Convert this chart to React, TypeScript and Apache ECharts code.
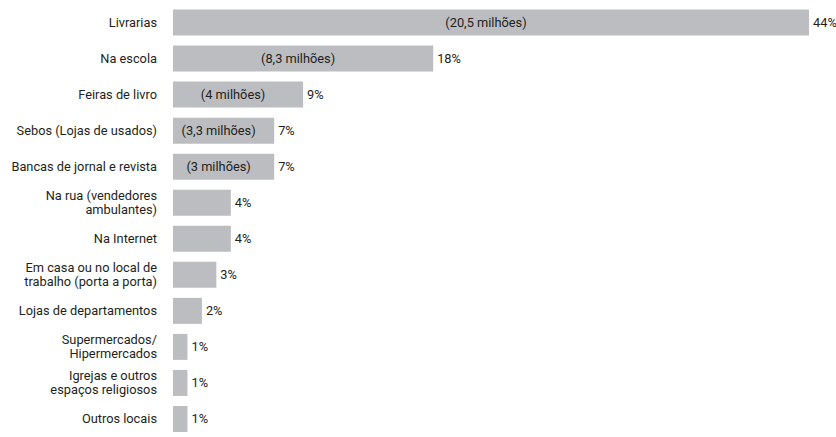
import React, { useEffect, useRef } from "react";
import * as echarts from "echarts";

const categories = [
  "Livrarias",
  "Na escola",
  "Feiras de livro",
  "Sebos (Lojas de usados)",
  "Bancas de jornal e revista",
  "Na rua (vendedores\nambulantes)",
  "Na Internet",
  "Em casa ou no local de\ntrabalho (porta a porta)",
  "Lojas de departamentos",
  "Supermercados/\nHipermercados",
  "Igrejas e outros\nespaços religiosos",
  "Outros locais",
];

const percentValues = [44, 18, 9, 7, 7, 4, 4, 3, 2, 1, 1, 1];

const millionsLabels = ["20,5", "8,3", "4", "3,3", "3", "", "", "", "", "", "", ""];

const FONT = "Roboto, 'Liberation Sans', sans-serif";
const FS = 12.8;
const TEXT = "#231f20";
const BAR = "#bcbdc0";

export default function App() {
  const ref = useRef<HTMLDivElement>(null);

  useEffect(() => {
    if (!ref.current) return;
    const chart = echarts.init(ref.current, undefined, { renderer: "svg" });
    chart.setOption({
      animation: false,
      backgroundColor: "#ffffff",
      grid: { left: 173, top: 4.5, width: 636, height: 439.2, containLabel: false },
      xAxis: { type: "value", min: 0, max: 44, show: false },
      yAxis: {
        type: "category",
        inverse: true,
        data: categories,
        axisLine: { show: false },
        axisTick: { show: false },
        splitLine: { show: false },
        axisLabel: {
          margin: 16,
          fontSize: FS,
          lineHeight: 14,
          color: TEXT,
          fontFamily: FONT,
          align: "right",
        },
      },
      series: [
        {
          type: "bar",
          data: percentValues,
          barWidth: 26,
          itemStyle: { color: BAR },
          label: {
            show: true,
            position: "right",
            distance: 4,
            formatter: (p: any) => p.value + "%",
            fontSize: FS,
            color: TEXT,
            fontFamily: FONT,
          },
          silent: true,
        },
        {
          type: "bar",
          data: percentValues,
          barWidth: 26,
          barGap: "-100%",
          itemStyle: { color: "transparent" },
          label: {
            show: true,
            position: "inside",
            offset: [-5, 0],
            formatter: (p: any) =>
              millionsLabels[p.dataIndex] ? "(" + millionsLabels[p.dataIndex] + " milhões)" : "",
            fontSize: FS,
            color: TEXT,
            fontFamily: FONT,
          },
          silent: true,
        },
      ],
    });
    return () => chart.dispose();
  }, []);

  return (
    <div
      ref={ref}
      style={{ position: "absolute", left: 0, top: 0, width: 836, height: 437, overflow: "hidden" }}
    />
  );
}
